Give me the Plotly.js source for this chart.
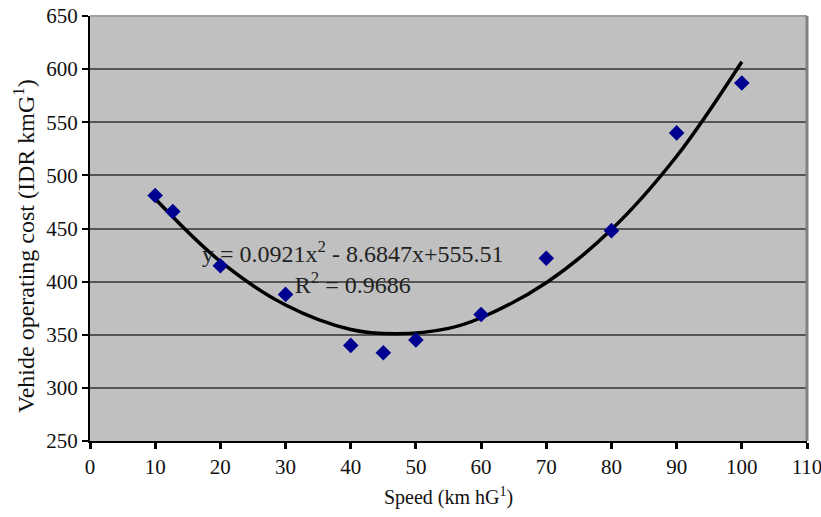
<!DOCTYPE html>
<html>
<head>
<meta charset="utf-8">
<script src="https://cdn.plot.ly/plotly-3.0.1.min.js"></script>
<style>html,body{margin:0;padding:0;background:#fff;}#chart{width:821px;height:517px;}</style>
</head>
<body>
<div id="chart"></div>
<script>
// Observed data points
var speed = [10, 12.7, 20, 30, 40, 45, 50, 60, 70, 80, 90, 100];
var cost  = [481, 466, 415, 388, 340, 333, 345, 369, 422, 448, 540, 587];

// Trendline values
var trendSpeed = [10, 20, 30, 40, 47, 55, 60, 70, 80, 90, 100];
var trendCost  = [478, 419, 378, 355, 351, 356, 366, 399, 449, 518, 607];

var xTicks = [0, 10, 20, 30, 40, 50, 60, 70, 80, 90, 100, 110];
var yTicks = [250, 300, 350, 400, 450, 500, 550, 600, 650];

var serif = "Liberation Serif, Times New Roman, serif";

var traces = [
  {
    x: trendSpeed, y: trendCost, mode: 'lines', type: 'scatter',
    line: {color: '#000000', width: 3.5, shape: 'spline', smoothing: 1},
    hoverinfo: 'skip', showlegend: false
  },
  {
    x: speed, y: cost, mode: 'markers', type: 'scatter',
    marker: {symbol: 'diamond', size: 12, color: '#000090'},
    showlegend: false
  }
];

var layout = {
  width: 821, height: 517,
  margin: {l: 90, r: 14, t: 16, b: 76},
  paper_bgcolor: '#ffffff',
  plot_bgcolor: '#c0c0c0',
  font: {family: serif, size: 18, color: '#111'},
  xaxis: {
    range: [0, 110], tickvals: xTicks, ticktext: xTicks.map(String),
    showgrid: false, zeroline: false,
    showline: true, linecolor: '#000', linewidth: 2,
    ticks: 'outside', ticklen: 6, tickwidth: 3, tickcolor: '#000',
    ticklabeloverflow: 'allow',
    tickfont: {family: serif, size: 21, color: '#111'},
    title: {text: 'Speed (km hG<sup>1</sup>)', font: {family: serif, size: 20, color: '#111'}, standoff: 12}
  },
  yaxis: {
    range: [250, 650], tickvals: yTicks, ticktext: yTicks.map(String),
    showgrid: true, gridcolor: '#555555', gridwidth: 2,
    zeroline: false,
    showline: true, linecolor: '#000', linewidth: 2,
    ticks: 'outside', ticklen: 6, tickwidth: 2, tickcolor: '#000',
    ticklabeloverflow: 'allow',
    tickfont: {family: serif, size: 21, color: '#111'}
  },
  shapes: [
    {type: 'line', xref: 'paper', yref: 'paper', x0: 0, x1: 1, y0: 1, y1: 1, line: {color: '#a0a0a0', width: 2}},
    {type: 'line', xref: 'paper', yref: 'paper', x0: 1, x1: 1, y0: 0, y1: 1, line: {color: '#808080', width: 3}}
  ],
  annotations: [
    {
      x: 40.3, y: 413, xref: 'x', yref: 'y', showarrow: false,
      text: 'y = 0.0921x<sup>2</sup> - 8.6847x+555.51<br>R<sup>2</sup> = 0.9686',
      font: {family: serif, size: 24, color: '#222'}, align: 'center'
    },
    {
      x: -0.092, y: 0.459, xref: 'paper', yref: 'paper', showarrow: false,
      textangle: -90, xanchor: 'center', yanchor: 'middle',
      text: 'Vehide operating cost (IDR kmG<sup>1</sup>)',
      font: {family: serif, size: 24, color: '#111'}
    }
  ]
};

Plotly.newPlot('chart', traces, layout, {displayModeBar: false, staticPlot: true});
</script>
</body>
</html>
